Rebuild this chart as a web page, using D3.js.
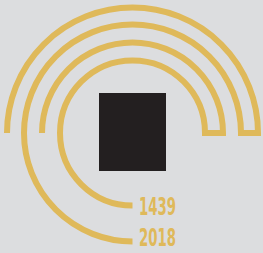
<!DOCTYPE html>
<html lang="en">
<head>
    <meta charset="UTF-8">
    <title>Rings 1439 - 2018</title>
    <script src="https://d3js.org/d3.v7.min.js"></script>
    <style>
        body {
            margin: 0;
            background-color: #dcdddf;
        }

        svg {
            display: block;
        }

        .ring {
            fill: none;
            stroke: #dfb95a;
            stroke-width: 6;
            stroke-linejoin: miter;
            stroke-linecap: butt;
        }

        .year {
            font-family: 'DejaVu Sans Condensed', 'DejaVu Sans', sans-serif;
            font-weight: bold;
            fill: #dfb95a;
        }
    </style>
</head>
<body>
    <svg></svg>

    <script>
        // ring radii, outer to inner
        const rings = [125.5, 108.5, 90.5, 72.5];
        // rings joined at the right end, in pairs [outer, inner]
        const pairs = [[0, 1], [2, 3]];
        const years = ['1439', '2018'];

        const width = 263;
        const height = 253;
        const cx = 132.5, cy = 133;

        const svg = d3.select('svg')
            .attr('width', width)
            .attr('height', height);

        const r = d3.scaleIdentity().domain([0, 130]);

        // each pair: outer ring from the left over the top, step in, inner ring back over the top and down to the bottom
        svg.append('g')
            .selectAll('path')
            .data(pairs)
            .enter().append('path')
            .attr('class', 'ring')
            .attr('d', d => {
                const ro = r(rings[d[0]]);
                const ri = r(rings[d[1]]);
                const p = d3.path();
                p.moveTo(cx - ro, cy);
                p.arc(cx, cy, ro, Math.PI, 2 * Math.PI, false);
                p.lineTo(cx + ri, cy);
                p.arc(cx, cy, ri, 0, -1.5 * Math.PI, true);
                return p.toString();
            });

        // black block in the middle
        svg.append('rect')
            .attr('x', 99)
            .attr('y', 93)
            .attr('width', 67)
            .attr('height', 78)
            .attr('fill', '#231f20');

        // year labels beside the ends of the inner rings
        const yearY = d3.scalePoint().domain(years).range([215, 246]);
        svg.append('g')
            .selectAll('text')
            .data(years)
            .enter().append('text')
            .attr('class', 'year')
            .attr('x', cx + 6.5)
            .attr('y', d => yearY(d))
            .attr('font-size', 24.5)
            .attr('textLength', 37)
            .attr('lengthAdjust', 'spacingAndGlyphs')
            .text(d => d);
    </script>
</body>
</html>
